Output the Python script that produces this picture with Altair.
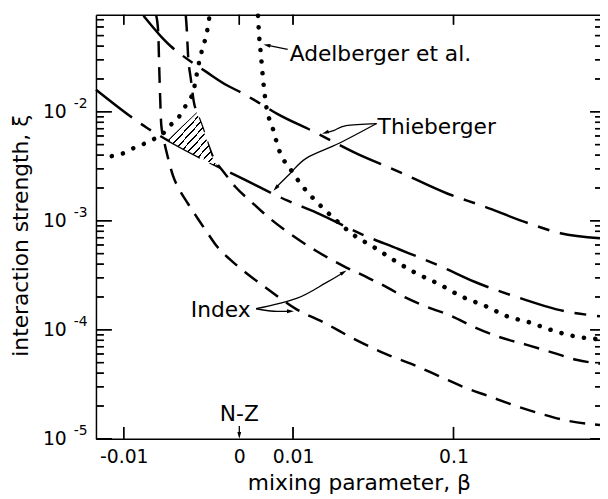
import math
import altair as alt
import pandas as pd

# x axis is logarithmic in (beta + SHIFT)
SHIFT = 0.015

# ---------------- curves (beta, xi) ----------------
T1_BETA = [-0.00897, -0.00793, -0.00716, -0.00639, -0.00400, -0.00173, -0.00015, 0.00275,
           0.00643, 0.01534, 0.03132, 0.05244, 0.0939, 0.1349, 0.2204, 0.3030, 0.448]
T1_XI = [0.0759, 0.0500, 0.0397, 0.0336, 0.0231, 0.0176, 0.0155, 0.0124,
         0.00962, 0.00660, 0.00408, 0.00286, 0.00177, 0.00138, 0.000947, 0.000769, 0.000692]

T2_BETA = [-0.01116, -0.00880, -0.00701, -0.00358, 0.00116, 0.00876, 0.01621, 0.03401,
           0.05309, 0.08797, 0.1254, 0.2096, 0.2912, 0.448]
T2_XI = [0.0159, 0.00718, 0.00514, 0.00339, 0.00232, 0.00153, 0.00119, 0.000738,
         0.000551, 0.000378, 0.000276, 0.000190, 0.000154, 0.000133]

DOTL_BETA = [-0.01054, -0.01001, -0.00941, -0.00886, -0.00826, -0.00773, -0.00716, -0.00663,
             -0.00623, -0.00563, -0.00527, -0.00508, -0.00461, -0.00431, -0.00400, -0.00380, -0.00369]
DOTL_XI = [0.00392, 0.00417, 0.00473, 0.00514, 0.00570, 0.00633, 0.00764, 0.00866,
           0.01045, 0.0129, 0.0159, 0.0200, 0.0330, 0.0414, 0.0521, 0.0670, 0.0759]

DOTR_BETA = [0.00292, 0.00309, 0.00343, 0.00378, 0.00432, 0.00563, 0.00684, 0.00967, 0.01289,
             0.01710, 0.02267, 0.02962, 0.03883, 0.04996, 0.06487, 0.0860, 0.1092, 0.1421,
             0.1764, 0.2204, 0.2745, 0.3442, 0.431]
DOTR_XI = [0.0759, 0.0521, 0.0330, 0.0204, 0.01184, 0.00703, 0.00453, 0.00286, 0.00197,
           0.00141, 0.00101, 0.000738, 0.000574, 0.000438, 0.000334, 0.000260, 0.000202, 0.000164,
           0.000133, 0.0001174, 0.0001, 0.0000877, 0.0000824]

IU_BETA = [-0.00598, -0.00589, -0.00580, -0.00554, -0.00527, -0.00490, -0.00441, -0.00390,
           -0.00337, -0.00281, -0.00198, -0.00056, 0.00178, 0.00506, 0.00944, 0.01621, 0.02524,
           0.03493, 0.04640, 0.05771, 0.07526, 0.0960, 0.1254, 0.1626, 0.2160, 0.2828, 0.3546, 0.448]
IU_XI = [0.0759, 0.0555, 0.0351, 0.0200, 0.0124, 0.00942, 0.00703, 0.00514,
         0.00392, 0.00331, 0.00275, 0.00205, 0.00150, 0.00105, 0.000753, 0.000528, 0.000386,
         0.000307, 0.000244, 0.000198, 0.000161, 0.000136, 0.0001058, 0.0000859, 0.0000727,
         0.0000615, 0.0000531, 0.0000489]

IL_BETA = [-0.00819, -0.00806, -0.00800, -0.00793, -0.00786, -0.00766, -0.00738, -0.00701,
           -0.00647, -0.00580, -0.00490, -0.00390, -0.00281, -0.00135, 0.00116, 0.00450, 0.01086,
           0.01834, 0.03046, 0.04526, 0.06337, 0.08604, 0.1128, 0.1467, 0.1894, 0.2510, 0.3278, 0.448]
IL_XI = [0.0759, 0.0532, 0.0267, 0.01315, 0.00764, 0.00536, 0.00376, 0.00258,
         0.00189, 0.00144, 0.00105, 0.000769, 0.000574, 0.000447, 0.000327, 0.000239, 0.000154,
         0.0001174, 0.0000807, 0.0000602, 0.0000479, 0.0000373, 0.0000296, 0.0000245, 0.0000203,
         0.0000169, 0.0000146, 0.0000134]

HATCH_BETA = [-0.00738, -0.00623, -0.00499, -0.00451, -0.00400, -0.00348, -0.00292]
HATCH_TOP = [0.00547, 0.00748, 0.00981, 0.00748, 0.00547, 0.00392, 0.00321]
HATCH_BOTTOM = [0.00547, 0.00460, 0.00395, 0.00373, 0.00353, 0.00335, 0.00321]
HATCH_EDGE_BETA = [-0.00738, -0.00499]
HATCH_EDGE_XI = [0.00547, 0.00981]

LABEL_TEXT = ["Adelberger et al.", "Thieberger", "Index"]
LABEL_BETA = [0.00921, 0.04088, -0.00554]
LABEL_XI = [0.0291, 0.00620, 0.000130]
NZ_TEXT = ["N-Z"]
NZ_BETA = [0.0]
NZ_XI = [1.46e-5]

ARROWS = {
    "adel": ([0.00876, 0.00469], [0.0373, 0.0406]),
    "th1": ([0.04036, 0.02638, 0.02197, 0.01896], [0.00780, 0.00748, 0.00674, 0.00640]),
    "th2": ([0.04036, 0.02375, 0.01342, 0.00921, 0.00622], [0.00780, 0.00514, 0.00376, 0.00269, 0.00201]),
    "ix1": ([0.00259, 0.01086, 0.01928, 0.02524], [0.000156, 0.000194, 0.000271, 0.000334]),
    "ix2": ([0.00259, 0.00584, 0.00944], [0.000156, 0.000148, 0.000148]),
    "nz": ([0.0, 0.0], [1.31e-5, 1.08e-5]),
}
HEAD_BETA = [0.00450, 0.0190, 0.00622, 0.02542, 0.0094, 0.0]
HEAD_XI = [0.0408, 0.00643, 0.00199, 0.000337, 0.000148, 1.076e-5]
HEAD_ANGLE = [282, 251, 222, 59, 90, 180]

XTICK_BETA = [-0.01, 0.0, 0.01, 0.1]
XTICK_LABELS = ["-0.01", "0", "0.01", "0.1"]
BOTTOM_TICK_BETA = [-0.01, 0.01, 0.1]
YTICKS = [1e-5, 1e-4, 1e-3, 1e-2]
YTICK_EXP = ["-5", "-4", "-3", "-2"]
YMINOR = [2e-5, 3e-5, 4e-5, 5e-5, 6e-5, 7e-5, 8e-5, 9e-5,
          2e-4, 3e-4, 4e-4, 5e-4, 6e-4, 7e-4, 8e-4, 9e-4,
          2e-3, 3e-3, 4e-3, 5e-3, 6e-3, 7e-3, 8e-3, 9e-3,
          2e-2, 3e-2, 4e-2, 5e-2, 6e-2, 7e-2]

FONT = "DejaVu Sans"
W, H = 510, 429
XDOM = [0.003838, 0.46314]   # in (beta + SHIFT)
YDOM = [1e-5, 0.07752]


def frame(beta, xi):
    return pd.DataFrame({"beta": beta, "xi": xi, "i": list(range(len(beta)))})


XSCALE = alt.Scale(type="log", domain=XDOM, nice=False)
YSCALE = alt.Scale(type="log", domain=YDOM, nice=False)


def pick_expr(values, labels):
    expr = "''"
    for v, lab in zip(values, labels):
        expr = f"abs(datum.value / {v!r} - 1) < 1e-6 ? '{lab}' : ({expr})"
    return expr


XT = [b + SHIFT for b in XTICK_BETA]

x_lab = alt.Axis(orient="bottom", values=XT, labelExpr=pick_expr(XT, XTICK_LABELS),
                 labelFontSize=19, labelPadding=9, labelFlush=False, labelOverlap=False,
                 ticks=False, tickSize=0, domain=True,
                 title="mixing parameter, β", titleFontSize=22, titleX=266, titleY=51,
                 titleBaseline="alphabetic")
x_td = alt.Axis(orient="top", ticks=False, labels=False, domain=True, title=None)

y_ten = alt.Axis(orient="left", values=YTICKS, labelExpr="'10'", labelFontSize=19,
                 labelPadding=30, labelBaseline="middle", labelOverlap=False,
                 ticks=False, tickSize=0, domain=True,
                 title="interaction strength, ξ", titleFontSize=22, titleAngle=270,
                 titleX=-69, titleY=223, titleBaseline="alphabetic", titleAlign="center")
y_sup = alt.Axis(orient="left", values=YTICKS, labelExpr=pick_expr(YTICKS, YTICK_EXP),
                 labelFontSize=14, labelPadding=9, labelOffset=-8, labelOverlap=False,
                 labelBaseline="middle", ticks=False, tickSize=0, domain=False, title=None)


def base(df):
    return alt.Chart(df).transform_calculate(s=f"datum.beta + {SHIFT}")


def X(axis=None):
    return alt.X("s:Q", scale=XSCALE, axis=axis)


def Y(field="xi", axis=None):
    return alt.Y(f"{field}:Q", scale=YSCALE, axis=axis)


THIEB_DASH = [46, 11, 12, 11]
INDEX_DASH = [16, 10]
DOT_DASH = [0.1, 11.5]


def curve(beta, xi, dash, width, xaxis=None, yaxis=None, cap="butt"):
    return base(frame(beta, xi)).mark_line(
        color="black", strokeWidth=width, strokeDash=dash, strokeCap=cap,
        interpolate="monotone"
    ).encode(x=X(xaxis), y=Y("xi", yaxis), order="i:Q")


# ---- thin annotation strokes: label arrows + inward frame ticks at the tick values ----
KX = math.log10(XDOM[1] / XDOM[0]) / W
KY = math.log10(YDOM[1] / YDOM[0]) / H
stroke_rows = []
for name, (bs, xs) in ARROWS.items():
    for j, (b, x) in enumerate(zip(bs, xs)):
        stroke_rows.append({"id": name, "beta": b, "xi": x, "i": j})


def add_seg(tag, b0, x0, b1, x1):
    stroke_rows.append({"id": tag, "beta": b0, "xi": x0, "i": 0})
    stroke_rows.append({"id": tag, "beta": b1, "xi": x1, "i": 1})


B_LEFT = XDOM[0] * 1.0005 - SHIFT
B_RIGHT = XDOM[1] * 0.9995 - SHIFT
for v in YTICKS:
    add_seg(f"lM{v}", B_LEFT, v, XDOM[0] * 10 ** (KX * 16) - SHIFT, v)
    add_seg(f"rM{v}", B_RIGHT, v, XDOM[1] / 10 ** (KX * 10) - SHIFT, v)
for v in YMINOR:
    add_seg(f"lm{v}", B_LEFT, v, XDOM[0] * 10 ** (KX * 8) - SHIFT, v)
    add_seg(f"rm{v}", B_RIGHT, v, XDOM[1] / 10 ** (KX * 5) - SHIFT, v)
for b in XTICK_BETA:
    add_seg(f"t{b}", b, YDOM[1] * 0.9995, b, YDOM[1] / 10 ** (KY * 10))
for b in BOTTOM_TICK_BETA:
    add_seg(f"b{b}", b, YDOM[0] * 1.0005, b, YDOM[0] * 10 ** (KY * 12))

strokes = base(pd.DataFrame(stroke_rows)).mark_line(
    color="black", strokeWidth=1.3, interpolate="cardinal").encode(
    x=X(), y=Y(), detail="id:N", order="i:Q")


# extra rule-based ticks (drawn on top; coincide with the segments above)
def yticks(values, x0, x1):
    return alt.Chart(pd.DataFrame({"xi": values})).mark_rule(
        color="black", strokeWidth=1.5).encode(
        y=Y(), x=alt.value(x0), x2=alt.value(x1))


def xticks(betas, y0, y1):
    return base(pd.DataFrame({"beta": betas})).mark_rule(
        color="black", strokeWidth=1.5).encode(
        x=X(), y=alt.value(y0), y2=alt.value(y1))


rule_ticks = [
    yticks(YTICKS, 0, 16), yticks(YMINOR, 0, 8),
    yticks(YTICKS, W, W - 10), yticks(YMINOR, W, W - 5),
    xticks(XTICK_BETA, 0, 10), xticks(BOTTOM_TICK_BETA, H, H - 12),
]

# hatch pattern as a striped gradient
stops = [alt.GradientStop(offset=0, color="white")]
N_STRIPES = 13
for k in range(N_STRIPES):
    c = (k + 0.5) / N_STRIPES
    stops += [alt.GradientStop(offset=c - 0.009, color="white"),
              alt.GradientStop(offset=c - 0.009, color="black"),
              alt.GradientStop(offset=c + 0.009, color="black"),
              alt.GradientStop(offset=c + 0.009, color="white")]
stops.append(alt.GradientStop(offset=1, color="white"))
hatch_fill = alt.Gradient(gradient="linear", stops=stops, x1=0, y1=0, x2=1, y2=1)

hatch_df = pd.DataFrame({"beta": HATCH_BETA, "top": HATCH_TOP, "bottom": HATCH_BOTTOM})
hatch = base(hatch_df).mark_area(fill=hatch_fill).encode(
    x=X(), y=Y("top"), y2="bottom:Q")
hatch_edge = base(frame(HATCH_EDGE_BETA, HATCH_EDGE_XI)).mark_line(
    color="black", strokeWidth=1).encode(x=X(), y=Y(), order="i:Q")

t1 = curve(T1_BETA, T1_XI, THIEB_DASH, 2.5, x_lab, y_ten)
t2 = curve(T2_BETA, T2_XI, THIEB_DASH, 2.5, None, y_sup)
dl = curve(DOTL_BETA, DOTL_XI, DOT_DASH, 4.6, x_td, None, cap="round")
dr = curve(DOTR_BETA, DOTR_XI, DOT_DASH, 4.6, None, None, cap="round")
iu = curve(IU_BETA, IU_XI, INDEX_DASH, 2.5)
il = curve(IL_BETA, IL_XI, INDEX_DASH, 2.5)

heads_df = pd.DataFrame({"beta": HEAD_BETA, "xi": HEAD_XI, "angle": HEAD_ANGLE})
heads = base(heads_df).mark_point(
    shape="M0,-1L0.55,1L-0.55,1Z", filled=True, color="black", opacity=1, size=49).encode(
    x=X(), y=Y(), angle=alt.Angle("angle:Q", scale=None))

labels_df = pd.DataFrame({"beta": LABEL_BETA, "xi": LABEL_XI, "label": LABEL_TEXT})
labels = base(labels_df).mark_text(
    align="left", baseline="alphabetic", font=FONT, fontSize=22, color="black").encode(
    x=X(), y=Y(), text="label:N")

nz_df = pd.DataFrame({"beta": NZ_BETA, "xi": NZ_XI, "label": NZ_TEXT})
nz = base(nz_df).mark_text(
    align="center", baseline="alphabetic", font=FONT, fontSize=22, color="black").encode(
    x=X(), y=Y(), text="label:N")

chart = alt.layer(
    t1, t2, dl, dr, iu, il, hatch, hatch_edge, strokes, heads, labels, nz, *rule_ticks
).resolve_axis(
    x="independent", y="independent"
).properties(
    width=W, height=H,
    padding={"left": 89, "top": 4, "right": 0, "bottom": 58},
    autosize=alt.AutoSizeParams(type="none"),
    background="white",
).configure_view(
    stroke=None
).configure_axis(
    grid=False, labelFont=FONT, titleFont=FONT, labelColor="black", titleColor="black",
    tickColor="black", domainColor="black", tickWidth=1.4, domainWidth=1.5,
    titleFontWeight="normal",
)

chart.save("out.html", embed_options={"renderer": "svg", "actions": False})
